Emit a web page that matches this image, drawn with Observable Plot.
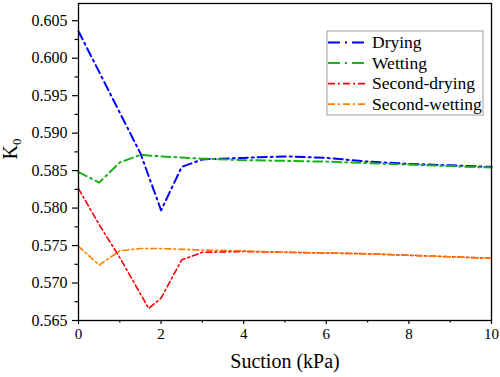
<!DOCTYPE html>
<html><head><meta charset="utf-8">
<script src="https://cdn.jsdelivr.net/npm/d3@7"></script>
<script src="https://cdn.jsdelivr.net/npm/@observablehq/plot@0.6"></script>
<style>body{margin:0;background:#fff} svg{display:block}</style>
</head><body><div id="chart"></div>
<script>
// Data
const seriesNames = ["Drying", "Wetting", "Second-drying", "Second-wetting"];
const seriesColors = ["#0000ff", "#17b317", "#ff0000", "#ff8000"];
const seriesDash = ["9,4,2,4", "9,4,2,4", "6,3,2,3", "6,3,2,3"];
const seriesWidth = [2, 2, 1.6, 1.6];

const dryingX = [0, 1.5, 2, 2.5, 3, 4, 5, 6, 7, 8, 9, 10];
const dryingK = [0.6036, 0.5873, 0.5797, 0.5855, 0.5865, 0.5867, 0.5869, 0.5867, 0.5862, 0.5859, 0.5857, 0.5855];
const wettingX = [0, 0.5, 1, 1.5, 2, 3, 4, 5, 6, 7, 8, 9, 10];
const wettingK = [0.5848, 0.5834, 0.5861, 0.5871, 0.5869, 0.5866, 0.5864, 0.5863, 0.5862, 0.5860, 0.5858, 0.5856, 0.5854];
const secondDryingX = [0, 0.5, 1, 1.7, 2, 2.5, 3, 4, 5, 6, 7, 8, 9, 10];
const secondDryingK = [0.5826, 0.5778, 0.5734, 0.5666, 0.5680, 0.5731, 0.5741, 0.5742, 0.5741, 0.5740, 0.5739, 0.5737, 0.5735, 0.5733];
const secondWettingX = [0, 0.5, 1, 1.5, 2, 3, 4, 5, 6, 7, 8, 9, 10];
const secondWettingK = [0.5749, 0.5724, 0.5743, 0.5746, 0.5746, 0.5744, 0.5743, 0.5741, 0.5740, 0.5739, 0.5737, 0.5735, 0.5733];

const xTicks = [0, 2, 4, 6, 8, 10];
const xMinorTicks = [1, 3, 5, 7, 9];
const yTicks = [0.565, 0.570, 0.575, 0.580, 0.585, 0.590, 0.595, 0.600, 0.605];
const yMinorTicks = [0.5675, 0.5725, 0.5775, 0.5825, 0.5875, 0.5925, 0.5975, 0.6025];
const xLabel = "Suction (kPa)";

const allX = [dryingX, wettingX, secondDryingX, secondWettingX];
const allK = [dryingK, wettingK, secondDryingK, secondWettingK];
const lines = seriesNames.map((name, s) =>
  Plot.line(allX[s].map((x, i) => ({x, k: allK[s][i]})), {
    x: "x", y: "k", stroke: seriesColors[s], strokeWidth: seriesWidth[s],
    strokeDasharray: seriesDash[s]
  })
);

const serif = "'Liberation Serif', 'Times New Roman', serif";
const sans = "'Liberation Sans', Arial, sans-serif";

const plot = Plot.plot({
  width: 500, height: 377,
  marginLeft: 78, marginRight: 9, marginTop: 3, marginBottom: 57,
  style: {background: "white", fontFamily: serif, color: "black"},
  x: {domain: [0, 10]},
  y: {domain: [0.565, 0.6073]},
  marks: [
    ...lines,
    Plot.axisY({ticks: yTicks, tickFormat: d => d.toFixed(3), tickSize: 6, tickPadding: 5, fontSize: 16, strokeWidth: 1.2, label: null, ariaLabel: "ymajor"}),
    Plot.axisY({ticks: yMinorTicks, tickFormat: () => "", tickSize: 3.5, strokeWidth: 1.2, label: null}),
    Plot.axisX({ticks: xTicks, tickFormat: d => String(d), tickSize: 4, tickPadding: 4, fontSize: 15, strokeWidth: 1.2, label: null, ariaLabel: "xmajor"}),
    Plot.axisX({ticks: xMinorTicks, tickFormat: () => "", tickSize: 2.5, strokeWidth: 1.2, label: null}),
    Plot.text([xLabel], {frameAnchor: "bottom", dy: 47, fontSize: 20, lineAnchor: "bottom", fill: "black"}),
    Plot.frame({stroke: "black", strokeWidth: 1.3})
  ]
});

const svg = d3.select(plot);
// Fonts: y tick labels sans, all other text serif
svg.selectAll("text").attr("font-family", serif);
svg.selectAll('[aria-label="ymajor"] text').attr("font-family", sans).attr("font-size", 16);
svg.selectAll('[aria-label="xmajor"] text').attr("font-size", 15);

// Y label with subscript
const yl = svg.append("text")
  .attr("transform", "translate(17,149) rotate(-90)")
  .attr("text-anchor", "middle")
  .attr("font-family", serif).attr("font-size", 20).attr("fill", "black");
yl.append("tspan").text("K");
yl.append("tspan").attr("font-size", 13).attr("dy", 4).text("0");

// Legend
const lg = svg.append("g").attr("text-anchor", "start");
lg.append("rect").attr("x", 327).attr("y", 31).attr("width", 156).attr("height", 84)
  .attr("fill", "white").attr("stroke", "#a0a0a0").attr("stroke-width", 1);
seriesNames.forEach((name, i) => {
  const by = 48.3 + i * 20.5;
  lg.append("line").attr("x1", 328).attr("x2", 367).attr("y1", by - 5.7).attr("y2", by - 5.7)
    .attr("stroke", seriesColors[i]).attr("stroke-width", seriesWidth[i])
    .attr("stroke-dasharray", i < 2 ? "12,5,2,5" : "7,3,2,3");
  lg.append("text").attr("x", 372).attr("y", by).attr("text-anchor", "start")
    .attr("font-family", serif).attr("font-size", 17.5).attr("fill", "black").text(name);
});

document.getElementById("chart").appendChild(plot);
</script>
</body></html>
